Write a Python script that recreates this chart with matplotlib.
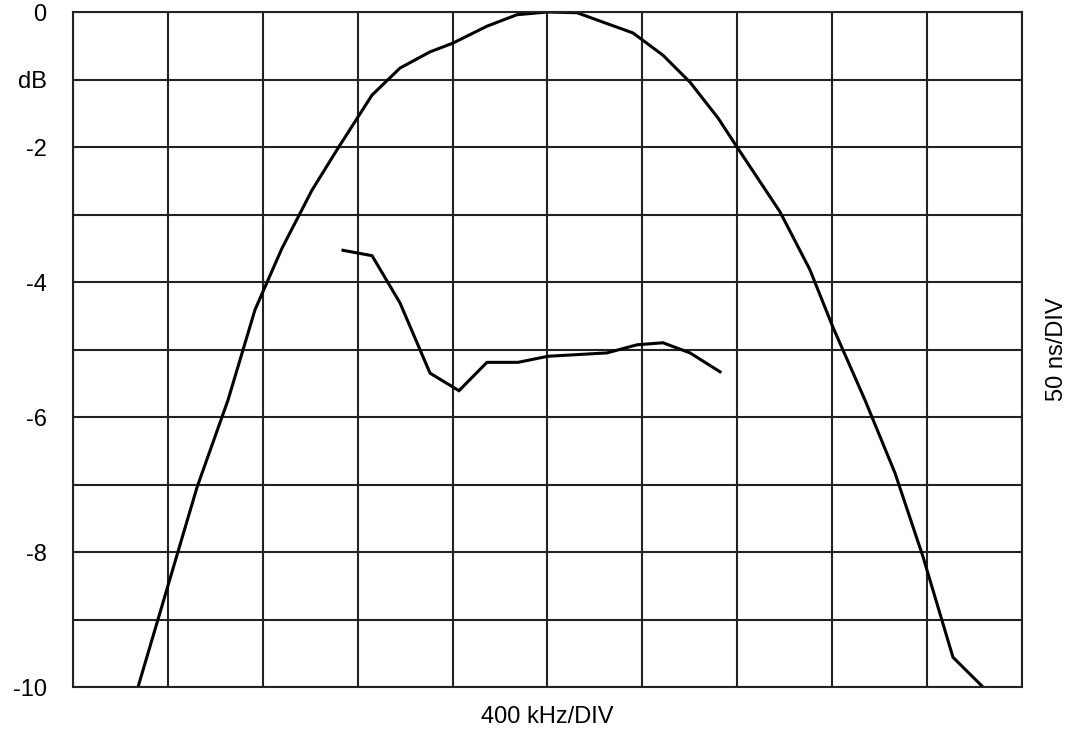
import matplotlib.pyplot as plt

# amplitude response, x in divisions (400 kHz/DIV), y in dB
amp_x = [0.685, 1.307, 1.633, 1.918, 2.202, 2.518, 2.782, 3.151, 3.446, 3.762,
         4.004, 4.362, 4.678, 4.995, 5.311, 5.585, 5.901, 6.217, 6.502, 6.797,
         6.997, 7.450, 7.766, 8.008, 8.346, 8.662, 8.957, 9.273, 9.589]
amp_y = [-10.0, -7.04, -5.75, -4.41, -3.50, -2.64, -2.04, -1.23, -0.83, -0.59,
         -0.46, -0.21, -0.04, 0.0, -0.01, -0.15, -0.31, -0.64, -1.04, -1.57,
         -2.0, -2.96, -3.82, -4.67, -5.75, -6.83, -8.07, -9.56, -10.0]

# group delay, drawn on the same grid (50 ns/DIV)
delay_x = [2.845, 3.151, 3.446, 3.762, 4.067, 4.362, 4.689, 5.005, 5.627,
           5.943, 6.217, 6.502, 6.818]
delay_y = [-3.53, -3.61, -4.31, -5.35, -5.61, -5.19, -5.19, -5.10, -5.05,
           -4.93, -4.90, -5.05, -5.33]

y_ticks = list(range(0, -11, -1))
y_labels = ['0', 'dB', '-2', '', '-4', '', '-6', '', '-8', '', '-10']

plt.rcParams['font.family'] = ['Liberation Sans', 'DejaVu Sans']

fig = plt.figure(figsize=(10.66, 7.29), dpi=100)
ax = fig.add_axes([0.0685, 0.0576, 0.8902, 0.9259])

ax.plot(amp_x, amp_y, color='black', lw=2.2, solid_joinstyle='miter')
ax.plot(delay_x, delay_y, color='black', lw=2.2, solid_joinstyle='miter')

ax.set_xlim(0, 10)
ax.set_ylim(-10, 0)
ax.set_xticks(range(11))
ax.set_xticklabels([])
ax.set_yticks(y_ticks)
ax.set_yticklabels(y_labels, fontsize=17)
ax.tick_params(length=0)
ax.tick_params(axis='y', pad=19)
ax.grid(True, color='#222222', lw=1.5)
for s in ax.spines.values():
    s.set_color('#222222')
    s.set_linewidth(1.5)

ax.set_xlabel('400 kHz/DIV', fontsize=17, labelpad=10)

ax2 = ax.twinx()
ax2.set_ylim(-10, 0)
ax2.set_yticks([])
ax2.set_ylabel('50 ns/DIV', fontsize=17, labelpad=17)
for s in ax2.spines.values():
    s.set_visible(False)

fig.savefig('out.png', dpi=100)
